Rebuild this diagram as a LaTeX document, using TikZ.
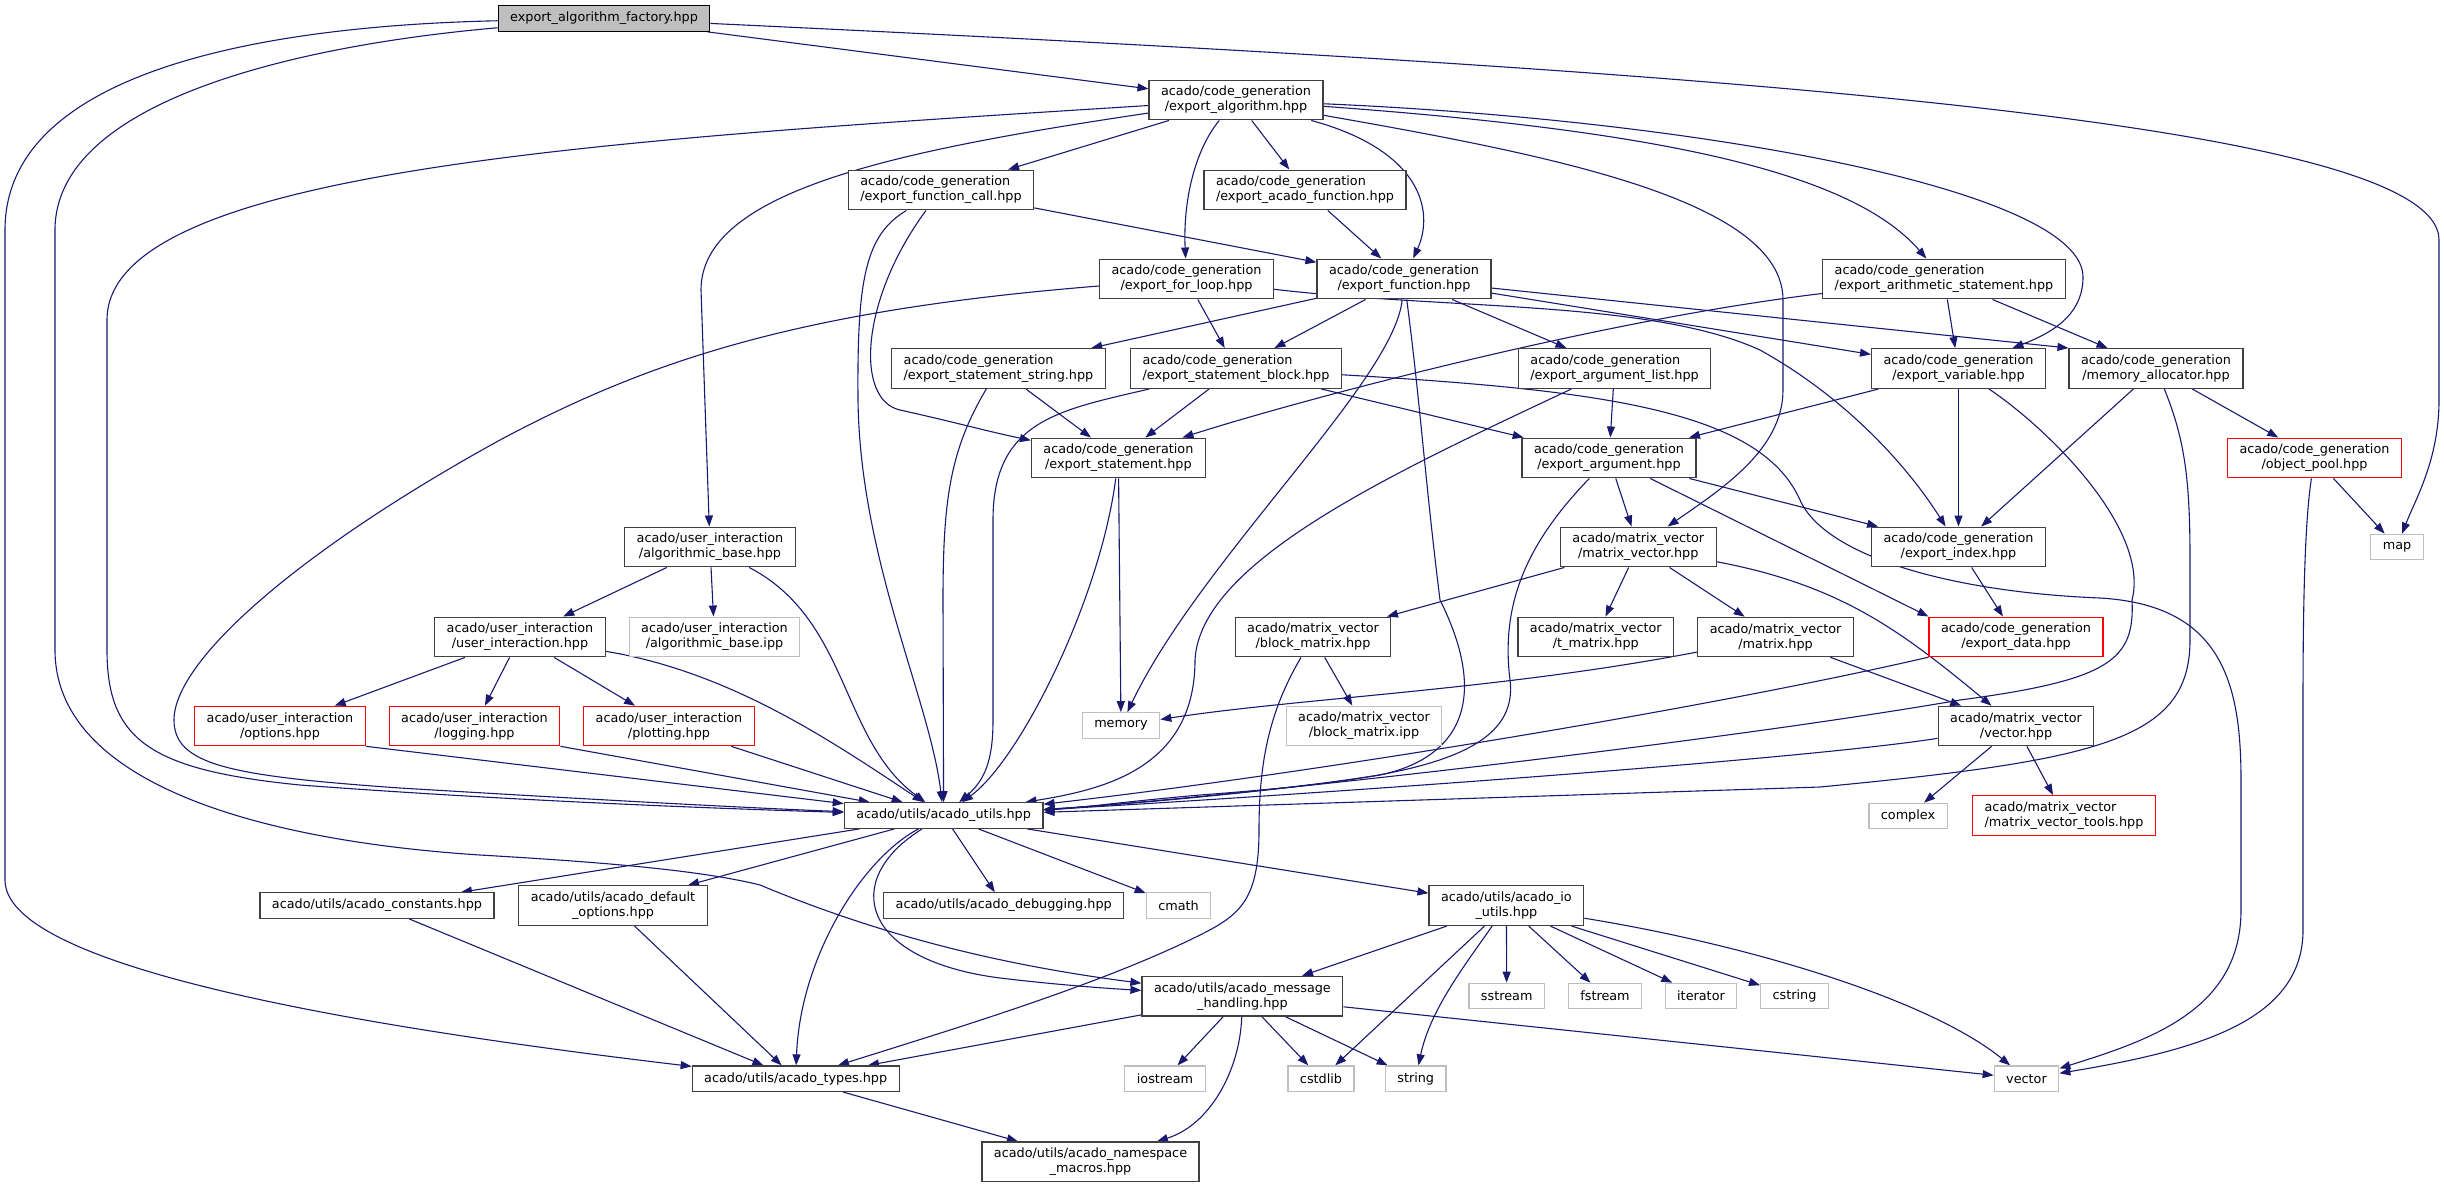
\documentclass[tikz,border=0pt]{standalone}
\usepackage{fontspec}
\setmainfont{DejaVu Sans}
\usepackage{tikz}
\usetikzlibrary{arrows.meta,backgrounds}

\definecolor{edgeblue}{HTML}{191970}
\definecolor{boxgray}{HTML}{404040}
\definecolor{sysgray}{HTML}{BFBFBF}
\definecolor{rootfill}{HTML}{BFBFBF}
\definecolor{truncred}{HTML}{FF0000}

\begin{document}
\begin{tikzpicture}[x=1pt, y=-1pt,
    every node/.style={font=\fontsize{12.8}{15}\selectfont},
    file/.style={draw=boxgray, line width=1.2pt, fill=white, align=center,
        inner xsep=12pt, inner ysep=6pt, minimum height=25.5pt},
    leftfile/.style={file, align=left},
    redfile/.style={file, draw=truncred},
    sysfile/.style={file, draw=sysgray},
    rootfile/.style={file, draw=black, fill=rootfill},
    inc/.style={draw=edgeblue, line width=1.1pt, -{Triangle[length=11pt,width=8pt]}}]
    \useasboundingbox (0,0) rectangle (2444,1184);

    % Headers
    \node[rootfile] (root) at (604,18.5) {export\_algorithm\_factory.hpp};
    \node[file] (ealg) at (1236,100) {acado/code\_generation\\/export\_algorithm.hpp};
    \node[leftfile] (efc) at (941,190) {acado/code\_generation\\/export\_function\_call.hpp};
    \node[leftfile] (eaf) at (1305,190) {acado/code\_generation\\/export\_acado\_function.hpp};
    \node[file] (efl) at (1186.5,279) {acado/code\_generation\\/export\_for\_loop.hpp};
    \node[file] (efn) at (1404,279) {acado/code\_generation\\/export\_function.hpp};
    \node[leftfile] (eas) at (1944,279) {acado/code\_generation\\/export\_arithmetic\_statement.hpp};
    \node[leftfile] (ess) at (998.5,368.5) {acado/code\_generation\\/export\_statement\_string.hpp};
    \node[leftfile] (esb) at (1236,368.5) {acado/code\_generation\\/export\_statement\_block.hpp};
    \node[leftfile] (eal) at (1614.6,368.5) {acado/code\_generation\\/export\_argument\_list.hpp};
    \node[file] (evar) at (1958.5,368.5) {acado/code\_generation\\/export\_variable.hpp};
    \node[file] (mema) at (2156,368.5) {acado/code\_generation\\/memory\_allocator.hpp};
    \node[file] (est) at (1118.4,458) {acado/code\_generation\\/export\_statement.hpp};
    \node[file] (earg) at (1609,458) {acado/code\_generation\\/export\_argument.hpp};
    \node[redfile] (opool) at (2314.5,458) {acado/code\_generation\\/object\_pool.hpp};
    \node[file] (abase) at (710,547) {acado/user\_interaction\\/algorithmic\_base.hpp};
    \node[file] (mv) at (1638.3,547) {acado/matrix\_vector\\/matrix\_vector.hpp};
    \node[file] (eidx) at (1958.5,547) {acado/code\_generation\\/export\_index.hpp};
    \node[sysfile] (map) at (2397,547) {map};
    \node[file] (uint) at (520,637) {acado/user\_interaction\\/user\_interaction.hpp};
    \node[sysfile] (abipp) at (714.5,637) {acado/user\_interaction\\/algorithmic\_base.ipp};
    \node[file] (bm) at (1313,637) {acado/matrix\_vector\\/block\_matrix.hpp};
    \node[file] (tm) at (1595.8,637) {acado/matrix\_vector\\/t\_matrix.hpp};
    \node[file] (mat) at (1775.6,637) {acado/matrix\_vector\\/matrix.hpp};
    \node[redfile] (edata) at (2016,637) {acado/code\_generation\\/export\_data.hpp};
    \node[redfile] (opts) at (280,726) {acado/user\_interaction\\/options.hpp};
    \node[redfile] (logg) at (474.5,726) {acado/user\_interaction\\/logging.hpp};
    \node[redfile] (plot) at (669,726) {acado/user\_interaction\\/plotting.hpp};
    \node[sysfile] (memory) at (1121,725.5) {memory};
    \node[sysfile] (bmipp) at (1364,726) {acado/matrix\_vector\\/block\_matrix.ipp};
    \node[file] (vec) at (2016,726) {acado/matrix\_vector\\/vector.hpp};
    \node[file] (autils) at (943.6,815.5) {acado/utils/acado\_utils.hpp};
    \node[sysfile] (complex) at (1908,816) {complex};
    \node[redfile, align=left] (mvtools) at (2064,815.5) {acado/matrix\_vector\\/matrix\_vector\_tools.hpp};
    \node[file] (aconst) at (377,905.6) {acado/utils/acado\_constants.hpp};
    \node[file] (adefopt) at (613,905.6) {acado/utils/acado\_default\\\_options.hpp};
    \node[file] (adebug) at (1003.7,905.6) {acado/utils/acado\_debugging.hpp};
    \node[sysfile] (cmath) at (1178.5,905.6) {cmath};
    \node[file] (aio) at (1506.4,905.6) {acado/utils/acado\_io\\\_utils.hpp};
    \node[file] (amsg) at (1242.4,996.2) {acado/utils/acado\_message\\\_handling.hpp};
    \node[sysfile] (sstream) at (1506.7,996) {sstream};
    \node[sysfile] (fstream) at (1605,996) {fstream};
    \node[sysfile] (iterator) at (1701,996) {iterator};
    \node[sysfile] (cstring) at (1794.5,996) {cstring};
    \node[file] (atypes) at (795.7,1078.7) {acado/utils/acado\_types.hpp};
    \node[sysfile] (iostream) at (1165,1078.7) {iostream};
    \node[sysfile] (cstdlib) at (1321,1078.7) {cstdlib};
    \node[sysfile] (string) at (1415.7,1078.7) {string};
    \node[sysfile] (stdvec) at (2026.5,1078.7) {vector};
    \node[file] (ansm) at (1090.5,1161.8) {acado/utils/acado\_namespace\\\_macros.hpp};

    \begin{scope}[on background layer]
    % factory header
    \draw[inc] (root) -- (ealg);
    \draw[inc] (root) .. controls (1700,70) and (2439,120) .. (2439,240) -- (2439,400) .. controls (2439,460) and (2415,500) .. (map);
    \draw[inc] (root) .. controls (300,45) and (55,100) .. (55,230) -- (55,650) .. controls (55,780) and (250,840) .. (480,855) .. controls (600,862) and (700,870) .. (760,885) .. controls (880,935) and (1000,965) .. (amsg);
    \draw[inc] (root) .. controls (300,25) and (5,60) .. (5,230) -- (5,880) .. controls (5,960) and (300,1020) .. (atypes);

    % export_algorithm
    \draw[inc] (ealg) -- (efc);
    \draw[inc] (ealg) -- (eaf);
    \draw[inc] (ealg) .. controls (1195,150) and (1183,200) .. (efl);
    \draw[inc] (ealg) .. controls (1420,150) and (1435,210) .. (efn);
    \draw[inc] (ealg) .. controls (1650,130) and (1850,170) .. (eas);
    \draw[inc] (ealg) .. controls (1700,120) and (2083,190) .. (2083,277) .. controls (2083,310) and (2060,330) .. (evar);
    \draw[inc] (ealg) .. controls (1550,155) and (1783,200) .. (1783,300) -- (1783,390) .. controls (1783,450) and (1720,490) .. (mv);
    \draw[inc] (ealg) .. controls (900,150) and (701,190) .. (701,290) -- (abase);
    \draw[inc] (ealg) .. controls (600,140) and (107,170) .. (107,320) -- (107,650) .. controls (107,740) and (150,770) .. (300,785) .. controls (500,800) and (700,808) .. (autils);

    % export_function_call, export_acado_function
    \draw[inc] (efc) -- (efn);
    \draw[inc] (efc) .. controls (860,300) and (855,400) .. (900,410) .. controls (950,421) and (990,432) .. (est);
    \draw[inc] (efc) .. controls (865,235) and (857,280) .. (858,400) .. controls (860,560) and (930,700) .. (autils);
    \draw[inc] (eaf) -- (efn);

    % export_for_loop
    \draw[inc] (efl) -- (esb);
    \draw[inc] (efl) .. controls (1450,310) and (1650,300) .. (1760,350) .. controls (1850,400) and (1910,470) .. (eidx);
    \draw[inc] (efl) .. controls (800,310) and (650,360) .. (500,440) .. controls (300,550) and (174,660) .. (174,720) .. controls (174,765) and (230,776) .. (400,788) .. controls (600,800) and (750,808) .. (autils);

    % export_function
    \draw[inc] (efn) -- (ess);
    \draw[inc] (efn) -- (esb);
    \draw[inc] (efn) -- (eal);
    \draw[inc] (efn) -- (evar);
    \draw[inc] (efn) -- (mema.north west);
    \draw[inc] (efn) .. controls (1395,380) and (1200,560) .. (memory);
    \draw[inc] (efn) .. controls (1420,400) and (1425,480) .. (1440,600) .. controls (1490,700) and (1460,758) .. (1380,775) .. controls (1250,795) and (1100,806) .. (autils);

    % export_arithmetic_statement
    \draw[inc] (eas) -- (evar);
    \draw[inc] (eas) -- (mema);
    \draw[inc] (eas) .. controls (1600,320) and (1300,400) .. (est);

    % export_statement_string, export_statement_block
    \draw[inc] (ess) -- (est);
    \draw[inc] (ess) .. controls (950,450) and (943,500) .. (943,600) -- (autils);
    \draw[inc] (esb) -- (est);
    \draw[inc] (esb) -- (earg);
    \draw[inc] (esb) .. controls (1060,410) and (993,420) .. (993,520) -- (993,720) .. controls (993,760) and (985,780) .. (autils);
    \draw[inc] (esb) .. controls (1600,390) and (1760,410) .. (1800,500) .. controls (1825,556) and (1950,592) .. (2100,598) .. controls (2220,605) and (2241,680) .. (2241,780) -- (2241,910) .. controls (2241,1010) and (2150,1040) .. (stdvec);

    % export_argument_list, export_variable
    \draw[inc] (eal) -- (earg);
    \draw[inc] (eal) .. controls (1400,470) and (1200,560) .. (1195,660) .. controls (1195,770) and (1100,790) .. (autils);
    \draw[inc] (evar) -- (earg);
    \draw[inc] (evar) -- (eidx);
    \draw[inc] (evar) .. controls (2050,430) and (2150,530) .. (2132,600) .. controls (2135,660) and (2110,680) .. (1960,700) .. controls (1700,745) and (1200,800) .. (autils);

    % memory_allocator
    \draw[inc] (mema) -- (eidx);
    \draw[inc] (mema) -- (opool);
    \draw[inc] (mema) .. controls (2185,440) and (2190,480) .. (2190,560) -- (2190,640) .. controls (2190,740) and (2100,760) .. (1820,787) -- (autils);

    % export_statement, export_argument
    \draw[inc] (est) -- (memory);
    \draw[inc] (est) .. controls (1100,600) and (1020,760) .. (autils);
    \draw[inc] (earg) -- (mv);
    \draw[inc] (earg) -- (eidx);
    \draw[inc] (earg) -- (edata.north west);
    \draw[inc] (earg) .. controls (1530,540) and (1500,600) .. (1510,680) .. controls (1520,760) and (1400,780) .. (1200,795) .. controls (1120,802) and (1080,808) .. (autils);

    % object_pool
    \draw[inc] (opool) -- (map);
    \draw[inc] (opool) .. controls (2305,520) and (2303,600) .. (2303,700) -- (2303,930) .. controls (2303,1020) and (2200,1050) .. (stdvec);

    % user interaction
    \draw[inc] (abase) -- (uint);
    \draw[inc] (abase) -- (abipp);
    \draw[inc] (abase) .. controls (850,620) and (840,740) .. (autils);
    \draw[inc] (uint) -- (opts);
    \draw[inc] (uint) -- (logg);
    \draw[inc] (uint) -- (plot);
    \draw[inc] (uint) .. controls (730,672) and (830,740) .. (autils);
    \draw[inc] (opts.south east) -- (autils);
    \draw[inc] (logg.south east) -- (autils);
    \draw[inc] (plot) -- (autils);

    % matrix_vector
    \draw[inc] (mv) -- (bm);
    \draw[inc] (mv) -- (tm);
    \draw[inc] (mv) -- (mat);
    \draw[inc] (mv) .. controls (1840,585) and (1900,630) .. (vec);
    \draw[inc] (mat) .. controls (1500,690) and (1300,698) .. (memory);
    \draw[inc] (mat) -- (vec);
    \draw[inc] (bm) -- (bmipp);
    \draw[inc] (bm) .. controls (1270,710) and (1259,760) .. (1259,830) .. controls (1259,900) and (1240,915) .. (1200,935) .. controls (1100,985) and (950,1030) .. (atypes);
    \draw[inc] (eidx) -- (edata);
    \draw[inc] (edata) .. controls (1700,710) and (1300,775) .. (autils);
    \draw[inc] (vec) .. controls (1800,760) and (1300,795) .. (autils);
    \draw[inc] (vec) -- (complex);
    \draw[inc] (vec) -- (mvtools);

    % acado_utils
    \draw[inc] (autils) -- (aconst);
    \draw[inc] (autils) -- (adefopt);
    \draw[inc] (autils) -- (adebug);
    \draw[inc] (autils) -- (cmath);
    \draw[inc] (autils) -- (aio);
    \draw[inc] (autils) .. controls (860,860) and (800,960) .. (atypes);
    \draw[inc] (autils) .. controls (840,880) and (860,960) .. (1000,978) .. controls (1050,984) and (1100,988) .. (amsg);
    \draw[inc] (aconst) -- (atypes);
    \draw[inc] (adefopt) -- (atypes);

    % acado_io_utils
    \draw[inc] (aio) -- (amsg);
    \draw[inc] (aio) -- (cstdlib);
    \draw[inc] (aio) .. controls (1465,965) and (1430,1010) .. (string);
    \draw[inc] (aio) -- (sstream);
    \draw[inc] (aio) -- (fstream);
    \draw[inc] (aio) -- (iterator);
    \draw[inc] (aio) -- (cstring);
    \draw[inc] (aio) .. controls (1750,945) and (1930,1000) .. (stdvec);

    % acado_message_handling, acado_types
    \draw[inc] (amsg) -- (atypes);
    \draw[inc] (amsg) -- (iostream);
    \draw[inc] (amsg) -- (cstdlib);
    \draw[inc] (amsg) -- (string);
    \draw[inc] (amsg) .. controls (1240,1070) and (1210,1125) .. (ansm);
    \draw[inc] (amsg) -- (stdvec);
    \draw[inc] (atypes) -- (ansm);
    \end{scope}
\end{tikzpicture}
\end{document}
